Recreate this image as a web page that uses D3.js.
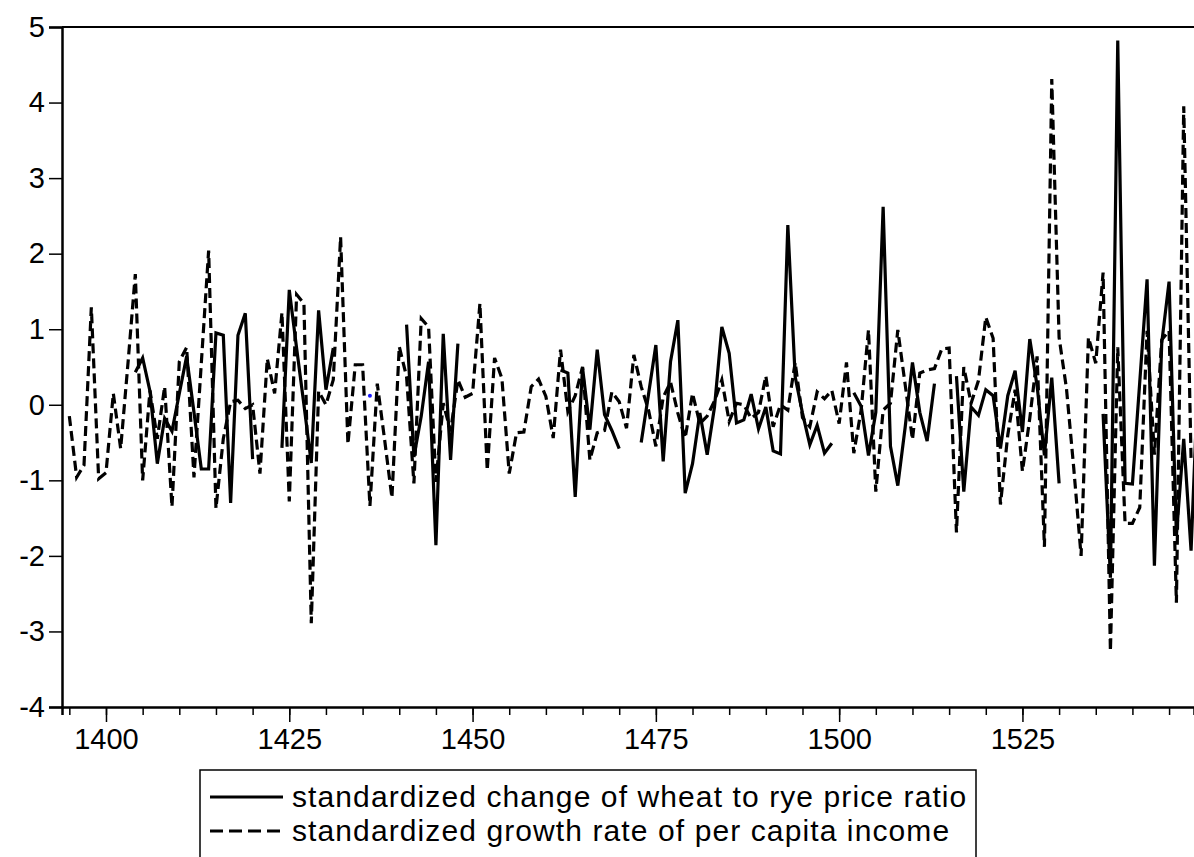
<!DOCTYPE html>
<html>
<head>
<meta charset="utf-8">
<script src="https://cdn.jsdelivr.net/npm/d3@7"></script>
<style>
  body { margin: 0; background: #fff; }
  text { font-family: "Liberation Sans", Arial, sans-serif; fill: #000; }
</style>
</head>
<body>
<svg id="chart" width="1194" height="857"></svg>
<script>
// years on the x axis (annual observations)
var years = d3.range(1395, 1550);

// standardized change of wheat to rye price ratio (null = missing)
var wheatRye = [
  null, null, null, null, null,                                   // 1395-1399
  null, null, null, null, 0.43, 0.62, 0.18, -0.78, -0.18, -0.35,  // 1400-1409
  0.15, 0.64, -0.10, -0.85, -0.85, 0.95, 0.92, -1.30, 0.92, 1.21, // 1410-1419
  -0.72, null, null, null, -0.57, 1.52, 0.75, 0.00, -0.77, 1.25,  // 1420-1429
  0.20, 0.75, null, null, null, null, null, null, null, null,     // 1430-1439
  null, 1.06, -0.69, -0.15, 0.57, -1.86, 0.94, -0.73, 0.81, null, // 1440-1449
  null, null, null, null, null, null, null, null, null, null,     // 1450-1459
  null, null, 0.46, 0.42, -1.22, 0.49, -0.33, 0.73, -0.13, -0.34, // 1460-1469
  -0.58, null, null, -0.50, 0.14, 0.79, -0.75, 0.57, 1.12, -1.17, // 1470-1479
  -0.78, -0.11, -0.66, -0.03, 1.03, 0.68, -0.24, -0.20, 0.14, -0.32, // 1480-1489
  -0.03, -0.61, -0.65, 2.38, 0.37, -0.11, -0.53, -0.27, -0.64, -0.51, // 1490-1499
  null, null, 0.16, -0.02, -0.67, -0.10, 2.62, -0.55, -1.07, -0.30, // 1500-1509
  0.56, -0.10, -0.48, 0.28, null, null, 0.38, -1.15, -0.03, -0.14, // 1510-1519
  0.20, 0.12, -0.58, 0.12, 0.45, -0.36, 0.87, 0.25, -0.67, 0.36,  // 1520-1529
  -1.04, null, null, null, null, null, -0.12, -2.29, 4.82, -1.04, // 1530-1539
  -1.05, 0.30, 1.66, -2.13, 0.82, 1.63, -1.73, -0.45, -1.93, 0.50 // 1540-1549
];

// standardized growth rate of per capita income
var incomeGrowth = [
  -0.15, -0.96, -0.80, 1.29, -0.98,                                // 1395-1399
  -0.90, 0.15, -0.58, 0.55, 1.73, -1.00, 0.19, -0.45, 0.24, -1.35, // 1400-1409
  0.57, 0.76, -0.96, 0.55, 2.04, -1.37, -0.45, 0.04, 0.06, -0.05,  // 1410-1419
  0.00, -0.91, 0.61, 0.15, 1.22, -1.28, 1.46, 1.34, -2.89, 0.18,   // 1420-1429
  0.00, 0.33, 2.22, -0.52, 0.53, 0.53, -1.34, 0.28, -0.46, -1.23,  // 1430-1439
  0.77, 0.37, -1.04, 1.14, 1.03, -1.02, 0.02, -0.35, 0.33, 0.10,   // 1440-1449
  0.15, 1.34, -0.87, 0.62, 0.35, -0.91, -0.37, -0.36, 0.24, 0.34,  // 1450-1459
  0.11, -0.44, 0.73, -0.09, 0.12, 0.50, -0.73, -0.37, -0.34, 0.17, // 1460-1469
  0.04, -0.31, 0.66, 0.24, -0.07, -0.55, 0.10, 0.30, -0.11, -0.44, // 1470-1479
  0.15, -0.25, -0.15, 0.05, 0.33, -0.22, 0.02, 0.00, -0.18, -0.10, // 1480-1489
  0.38, -0.29, 0.00, -0.07, 0.56, -0.17, -0.29, 0.17, 0.08, 0.19,  // 1490-1499
  -0.25, 0.56, -0.64, -0.07, 0.99, -1.15, -0.07, 0.02, 0.99, 0.27, // 1500-1509
  -0.46, 0.42, 0.46, 0.48, 0.74, 0.75, -1.69, 0.50, 0.02, 0.32,    // 1510-1519
  1.16, 0.88, -1.32, -0.40, 0.20, -0.88, -0.18, 0.64, -1.88, 4.31, // 1520-1529
  0.89, 0.22, -0.84, -2.00, 0.89, 0.55, 1.75, -3.26, 0.76, -1.57,  // 1530-1539
  -1.57, -1.36, 0.98, -0.66, 0.86, 0.98, -2.62, 3.95, -0.72, null  // 1540-1549
];

// lone blue point near 1436
var bluePoint = [{ year: 1436, value: 0.12 }];

var yTicks = [5, 4, 3, 2, 1, 0, -1, -2, -3, -4];
var xMajor = [1400, 1425, 1450, 1475, 1500, 1525];
var xMinor = d3.range(1395, 1550, 5);

var legendLabels = [
  "standardized change of wheat to rye price ratio",
  "standardized growth rate of per capita income"
];

(function () {
  var mLeft = 62, mRight = 1194, mTop = 27, mBottom = 707;

  var svg = d3.select("#chart");

  var x = d3.scaleLinear().domain([1394, 1548.4]).range([mLeft, mRight]);
  var y = d3.scaleLinear().domain([-4, 5]).range([mBottom, mTop]);

  // plain hyphen minus like the original, not the unicode minus
  var plain = function (d) { return String(d); };

  svg.append("clipPath").attr("id", "plotclip")
    .append("rect")
      .attr("x", mLeft).attr("y", mTop)
      .attr("width", mRight - mLeft).attr("height", mBottom - mTop);

  // top frame line (right side is cut off in the picture)
  svg.append("line").attr("x1", mLeft).attr("x2", mRight).attr("y1", mTop).attr("y2", mTop)
    .attr("stroke", "#000").attr("stroke-width", 2);

  // y axis
  var yAxis = d3.axisLeft(y).tickValues(yTicks).tickSize(13).tickPadding(4)
    .tickFormat(plain);
  var gy = svg.append("g").attr("transform", "translate(" + mLeft + ",0)").call(yAxis);
  gy.select(".domain").attr("stroke-width", 2.5);
  gy.selectAll(".tick line").attr("stroke-width", 1.5);
  gy.selectAll("text").style("font-size", "29px");

  // x axis: minor ticks every 5 years, labelled majors every 25
  var gxMinor = svg.append("g").attr("transform", "translate(0," + mBottom + ")")
    .call(d3.axisBottom(x).tickValues(xMinor).tickSize(8).tickFormat(""));
  gxMinor.select(".domain").attr("stroke-width", 2.5);
  gxMinor.selectAll(".tick line").attr("stroke-width", 1.5);

  var gxMajor = svg.append("g").attr("transform", "translate(0," + mBottom + ")")
    .call(d3.axisBottom(x).tickValues(xMajor).tickSize(15).tickPadding(6)
      .tickFormat(plain));
  gxMajor.select(".domain").remove();
  gxMajor.selectAll(".tick line").attr("stroke-width", 1.5);
  gxMajor.selectAll("text").style("font-size", "29px");

  svg.selectAll(".tick text").attr("fill", "#000");

  // series
  var plot = svg.append("g").attr("clip-path", "url(#plotclip)");

  function lineFor(values) {
    return d3.line()
      .defined(function (d, i) { return values[i] != null; })
      .x(function (d) { return x(d); })
      .y(function (d, i) { return y(values[i]); })(years);
  }

  plot.append("path")
    .attr("d", lineFor(wheatRye))
    .attr("fill", "none")
    .attr("stroke", "#000")
    .attr("stroke-width", 3.2);

  plot.append("path")
    .attr("d", lineFor(incomeGrowth))
    .attr("fill", "none")
    .attr("stroke", "#000")
    .attr("stroke-width", 3.2)
    .attr("stroke-dasharray", "10,5");

  plot.selectAll(".blue").data(bluePoint).enter().append("circle")
    .attr("class", "blue")
    .attr("cx", function (d) { return x(d.year); })
    .attr("cy", function (d) { return y(d.value); })
    .attr("r", 2)
    .attr("fill", "#1a1aff");

  // legend
  var legend = svg.append("g");
  legend.append("rect")
    .attr("x", 200).attr("y", 770).attr("width", 776).attr("height", 110)
    .attr("fill", "none").attr("stroke", "#000").attr("stroke-width", 1.5);

  var dashes = [null, "13,6"];
  legendLabels.forEach(function (lab, i) {
    var ly = 797 + i * 34;
    legend.append("line")
      .attr("x1", 210).attr("x2", 283).attr("y1", ly).attr("y2", ly)
      .attr("stroke", "#000").attr("stroke-width", 3)
      .attr("stroke-dasharray", dashes[i]);
    legend.append("text")
      .attr("x", 292).attr("y", ly + 10)
      .style("font-size", "30px")
      .style("letter-spacing", "1.1px")
      .text(lab);
  });
})();
</script>
</body>
</html>
